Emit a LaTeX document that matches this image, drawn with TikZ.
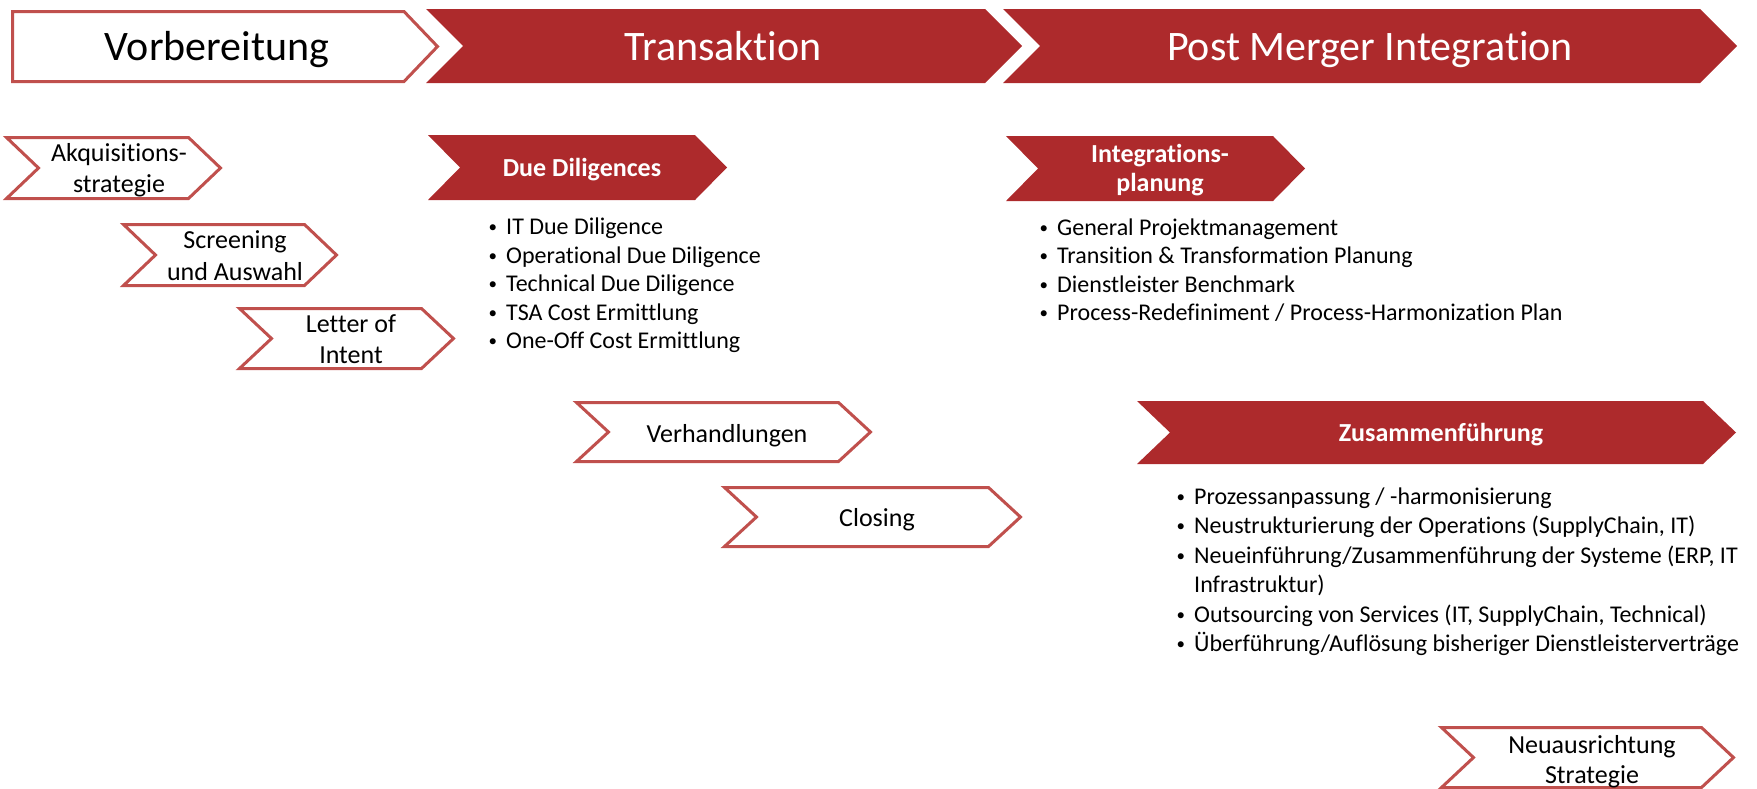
\documentclass[tikz,border=0pt]{standalone}
\usepackage{fontspec}
\setmainfont{Carlito}[RawFeature={-liga;-clig}]
\definecolor{fillred}{HTML}{AD2A2C}
\definecolor{outred}{HTML}{C0504D}
\newcommand\mychev[6]{%
  \path[#1] (#2,#3) -- ({#4-#6},#3) -- (#4,{(#3+#5)/2}) -- ({#4-#6},#5) -- (#2,#5) -- ({#2+#6},{(#3+#5)/2}) -- cycle;}
\tikzset{
  outl/.style={draw=outred, line width=3pt, fill=white, line join=miter},
  filled/.style={fill=fillred, draw=none},
  big/.style={anchor=base, inner sep=0pt, font=\fontsize{42}{50}\selectfont},
  lbl/.style={anchor=base, inner sep=0pt, font=\fontsize{26}{31}\selectfont},
  blbl/.style={anchor=base, inner sep=0pt, text=white, font=\fontsize{26}{31}\selectfont\bfseries},
  bul/.style={anchor=base west, inner sep=0pt, font=\fontsize{24}{29}\selectfont},
}
\newcommand\bl{\makebox[20.5pt][l]{\hspace{3pt}\raisebox{2pt}{\fontsize{17}{17}\selectfont •}}}
\begin{document}
\begin{tikzpicture}[x=1pt,y=-1pt]
\useasboundingbox (0,0) rectangle (1757,788);
% top row
\path[outl] (12.5,11.5) -- (404,11.5) -- (437.5,46.5) -- (404,81.5) -- (12.5,81.5) -- cycle;
\mychev{filled}{426}{9}{1022}{83}{37}
\mychev{filled}{1003}{9}{1737}{83}{37}
\node[big] (vor) at (217,60) {Vorbereitung};
\node[big, text=white] (tra) at (723,60) {Transaktion};
\node[big, text=white] (pmi) at (1370,60) {Post Merger Integration};
% Vorbereitung items
\mychev{outl}{6.5}{137.5}{220.5}{198.5}{32}
\node[lbl] (akq1) at (119,161) {Akquisitions-};
\node[lbl] (akq2) at (119,192) {strategie};
\mychev{outl}{123.5}{224.5}{336.5}{285.5}{32}
\node[lbl] (scr1) at (235,248) {Screening};
\node[lbl] (scr2) at (235,280) {und Auswahl};
\mychev{outl}{239.5}{308.5}{453.5}{368.5}{32}
\node[lbl] (loi1) at (351,332) {Letter of};
\node[lbl] (loi2) at (351,363) {Intent};
% Transaktion items
\mychev{filled}{428}{135}{727}{200}{32}
\node[blbl] (dd) at (582,176) {Due Diligences};
\node[bul] (dd1) at (485.5,234) {\bl IT Due Diligence};
\node[bul] (dd2) at (485.5,263) {\bl Operational Due Diligence};
\node[bul] (dd3) at (485.5,291) {\bl Technical Due Diligence};
\node[bul] (dd4) at (485.5,320) {\bl TSA Cost Ermittlung};
\node[bul] (dd5) at (485.5,348) {\bl One-Off Cost Ermittlung};
\mychev{outl}{576.5}{402.5}{870.5}{461.5}{32}
\node[lbl] (ver) at (727,442) {Verhandlungen};
\mychev{outl}{724.5}{487.5}{1020.5}{546.5}{32}
\node[lbl] (clo) at (877,526) {Closing};
% PMI items
\mychev{filled}{1006}{136}{1305}{201}{32}
\node[blbl] (int1) at (1160,162) {Integrations-};
\node[blbl] (int2) at (1160,191) {planung};
\node[bul] (in1) at (1036.5,235) {\bl General Projektmanagement};
\node[bul] (in2) at (1036.5,263) {\bl Transition \& Transformation Planung};
\node[bul] (in3) at (1036.5,292) {\bl Dienstleister Benchmark};
\node[bul] (in4) at (1036.5,320) {\bl Process-Redefiniment / Process-Harmonization Plan};
\mychev{filled}{1137}{401}{1736}{464}{33}
\node[blbl] (zus) at (1441,441) {Zusammenführung};
\node[bul] (zu1) at (1173.5,504) {\bl Prozessanpassung / -harmonisierung};
\node[bul] (zu2) at (1173.5,533) {\bl Neustrukturierung der Operations (SupplyChain, IT)};
\node[bul] (zu3) at (1173.5,563) {\bl Neueinführung/Zusammenführung der Systeme (ERP, IT};
\node[bul] (zu3b) at (1194,592) {Infrastruktur)};
\node[bul] (zu4) at (1173.5,622) {\bl Outsourcing von Services (IT, SupplyChain, Technical)};
\node[bul] (zu5) at (1173.5,651) {\bl Überführung/Auflösung bisheriger Dienstleisterverträge};
\mychev{outl}{1441.5}{727.5}{1733.5}{787.5}{32}
\node[lbl] (neu1) at (1592,753) {Neuausrichtung};
\node[lbl] (neu2) at (1592,783) {Strategie};
\end{tikzpicture}
\end{document}
